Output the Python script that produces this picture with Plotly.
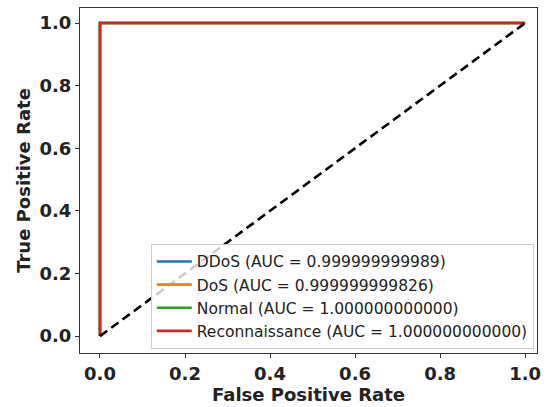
import plotly.graph_objects as go

classes = ["DDoS", "DoS", "Normal", "Reconnaissance"]
auc_labels = ["0.999999999989", "0.999999999826", "1.000000000000", "1.000000000000"]
fpr = [[0.0, 0.0, 1.0], [0.0, 0.0, 1.0], [0.0, 0.0, 1.0], [0.0, 0.0, 1.0]]
tpr = [[0.0, 1.0, 1.0], [0.0, 1.0, 1.0], [0.0, 1.0, 1.0], [0.0, 1.0, 1.0]]
colors = ["#1f77b4", "#ff7f0e", "#2ca02c", "#d62728"]
diag_x = [0.0, 1.0]
diag_y = [0.0, 1.0]
ticks = [0.0, 0.2, 0.4, 0.6, 0.8, 1.0]

fig = go.Figure()
for name, auc, fx, ty, c in zip(classes, auc_labels, fpr, tpr, colors):
    fig.add_trace(go.Scatter(x=fx, y=ty, mode="lines", name=f"{name} (AUC = {auc})",
                             line=dict(color=c, width=2.6)))
fig.add_trace(go.Scatter(x=diag_x, y=diag_y, mode="lines", showlegend=False,
                         line=dict(color="black", width=2.6, dash="9px,5px")))

axis_common = dict(
    showgrid=False, zeroline=False, showline=True, mirror=True,
    linecolor="#333333", linewidth=1, ticks="outside", ticklen=4, tickcolor="#333333",
    tickvals=ticks, ticktext=[f"<b>{t:.1f}</b>" for t in ticks],
    tickfont=dict(family="DejaVu Sans", size=18, color="#222222"),
)
fig.update_xaxes(range=[-0.047, 1.028], title=dict(text="<b>False Positive Rate</b>",
                 font=dict(family="DejaVu Sans", size=18, color="#222222"), standoff=2), **axis_common)
fig.update_yaxes(range=[-0.054, 1.048], title=dict(text="<b>True Positive Rate</b>",
                 font=dict(family="DejaVu Sans", size=18, color="#222222"), standoff=4), **axis_common)

fig.update_layout(
    width=548, height=407,
    margin=dict(l=80, r=8, t=7, b=54),
    plot_bgcolor="white", paper_bgcolor="white",
    font=dict(family="DejaVu Sans", size=15.5, color="#222222"),
    legend=dict(x=0.993, y=0.012, xanchor="right", yanchor="bottom",
                bordercolor="#cccccc", borderwidth=1, bgcolor="rgba(255,255,255,0.8)",
                font=dict(family="DejaVu Sans", size=15.5, color="#222222"),
                itemwidth=35),
)

fig.write_html("out.html")
